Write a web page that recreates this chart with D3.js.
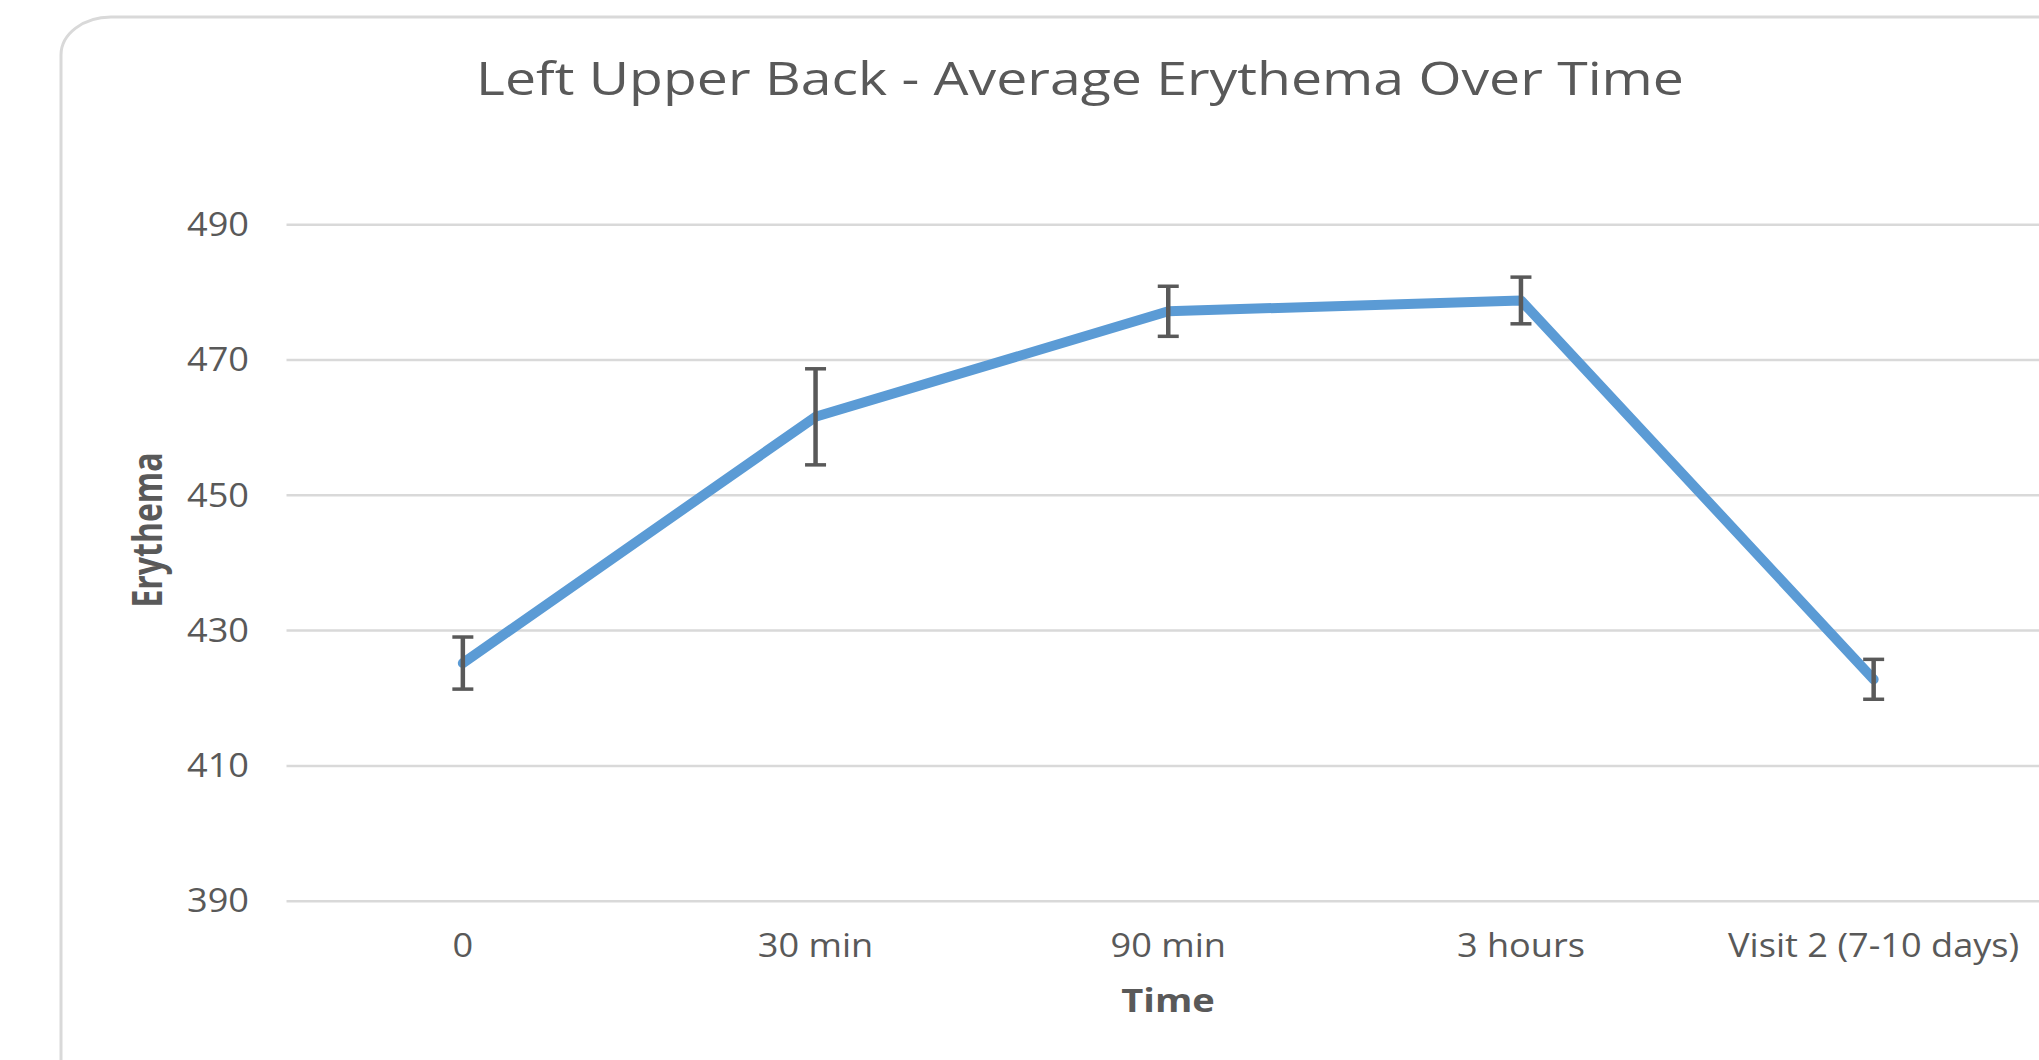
<!DOCTYPE html>
<html>
<head>
    <meta charset="utf-8">
    <title>Left Upper Back - Average Erythema Over Time</title>
    <script src="https://d3js.org/d3.v7.min.js"></script>
    <style>
        body { margin: 0; background: #ffffff; }
        svg { display: block; font-family: "Open Sans", "Noto Sans", sans-serif; }
    </style>
</head>
<body>
    <svg width="2039" height="1060"></svg>
    <script>
        // Values
        var timePoints = ["0", "30 min", "90 min", "3 hours", "Visit 2 (7-10 days)"];
        var meanErythema = [425.2, 461.6, 477.2, 478.8, 422.8];
        var errorSize = [3.85, 7.1, 3.7, 3.45, 2.95];
        var yTicks = [390, 410, 430, 450, 470, 490];

        var chartTitle = "Left Upper Back - Average Erythema Over Time";
        var xTitle = "Time";
        var yTitle = "Erythema";

        // the reference is stretched sideways, so text is stretched too
        var sxTick = 1.13, sxTitle = 1.23, sxAxis = 1.19, sxY = 1.3;
        var textColor = "#595959";

        var svg = d3.select("svg");

        // chart border (rounded, runs off the right and bottom edges)
        svg.append("rect")
            .attr("x", 61)
            .attr("y", 17)
            .attr("width", 2200)
            .attr("height", 1200)
            .attr("rx", 50)
            .attr("ry", 38)
            .attr("fill", "#ffffff")
            .attr("stroke", "#d9d9d9")
            .attr("stroke-width", 3);

        var plotLeft = 286.5, plotRight = 2050;
        var x = d3.scaleBand()
            .domain(timePoints)
            .range([plotLeft, plotRight]);

        var y = d3.scaleLinear()
            .domain([390, 490])
            .range([901.2, 224.7]);

        function cx(d) { return x(d) + x.bandwidth() / 2; }

        // gridlines
        svg.append("g").selectAll("line")
            .data(yTicks)
            .enter()
            .append("line")
            .attr("x1", plotLeft)
            .attr("x2", plotRight)
            .attr("y1", function(d) { return y(d); })
            .attr("y2", function(d) { return y(d); })
            .attr("stroke", "#d9d9d9")
            .attr("stroke-width", 2.5);

        // y tick labels
        svg.append("g").selectAll("text")
            .data(yTicks)
            .enter()
            .append("text")
            .attr("transform", function(d) { return "translate(249," + y(d) + ") scale(" + sxTick + ",1)"; })
            .attr("dy", "0.35em")
            .attr("text-anchor", "end")
            .attr("font-size", 32)
            .attr("fill", textColor)
            .text(function(d) { return d; });

        // x tick labels
        svg.append("g").selectAll("text")
            .data(timePoints)
            .enter()
            .append("text")
            .attr("transform", function(d) { return "translate(" + cx(d) + ",957) scale(" + sxTick + ",1)"; })
            .attr("text-anchor", "middle")
            .attr("font-size", 32)
            .attr("fill", textColor)
            .text(function(d) { return d; });

        // title
        svg.append("text")
            .attr("transform", "translate(1080,95) scale(" + sxTitle + ",1)")
            .attr("text-anchor", "middle")
            .attr("font-size", 45)
            .attr("fill", textColor)
            .text(chartTitle);

        // axis titles
        svg.append("text")
            .attr("transform", "translate(1168,1012) scale(" + sxAxis + ",1)")
            .attr("text-anchor", "middle")
            .attr("font-size", 32)
            .attr("font-weight", "bold")
            .attr("fill", textColor)
            .text(xTitle);

        svg.append("text")
            .attr("transform", "translate(162,530) scale(" + sxY + ",1) rotate(-90)")
            .attr("text-anchor", "middle")
            .attr("font-size", 32)
            .attr("font-weight", "bold")
            .attr("fill", textColor)
            .text(yTitle);

        var points = timePoints.map(function(t, i) {
            return { t: t, v: meanErythema[i], e: errorSize[i] };
        });

        // the line
        var line = d3.line()
            .x(function(d) { return cx(d.t); })
            .y(function(d) { return y(d.v); });

        svg.append("path")
            .datum(points)
            .attr("d", line)
            .attr("fill", "none")
            .attr("stroke", "#5b9bd5")
            .attr("stroke-width", 10)
            .attr("stroke-linejoin", "round")
            .attr("stroke-linecap", "round");

        // error bars
        var bars = svg.append("g").selectAll("g")
            .data(points)
            .enter()
            .append("g")
            .attr("stroke", "#595959");

        bars.append("line")
            .attr("x1", function(d) { return cx(d.t); })
            .attr("x2", function(d) { return cx(d.t); })
            .attr("y1", function(d) { return y(d.v + d.e); })
            .attr("y2", function(d) { return y(d.v - d.e); })
            .attr("stroke-width", 4.5);

        [1, -1].forEach(function(sign) {
            bars.append("line")
                .attr("x1", function(d) { return cx(d.t) - 10.5; })
                .attr("x2", function(d) { return cx(d.t) + 10.5; })
                .attr("y1", function(d) { return y(d.v + sign * d.e); })
                .attr("y2", function(d) { return y(d.v + sign * d.e); })
                .attr("stroke-width", 3.5);
        });
    </script>
</body>
</html>
